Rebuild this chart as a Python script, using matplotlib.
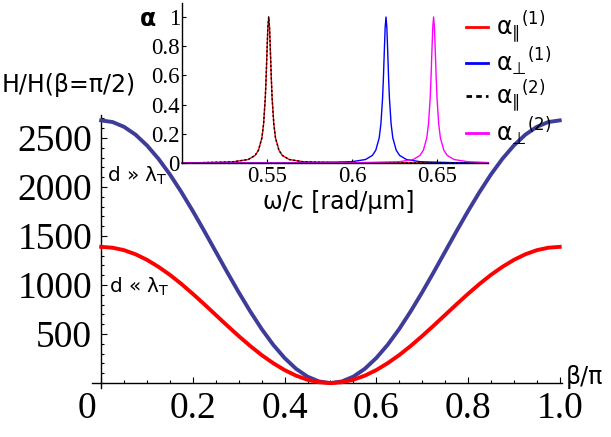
import matplotlib
matplotlib.use('Agg')
import matplotlib.pyplot as plt
import matplotlib.lines as mlines
from matplotlib.ticker import MultipleLocator, FixedLocator, FixedFormatter
import matplotlib.transforms as mtrans

plt.rcParams['font.family'] = ['Liberation Serif', 'DejaVu Serif']
plt.rcParams['mathtext.fontset'] = 'dejavusans'
plt.rcParams['mathtext.default'] = 'regular'

# ---------------- main plot data ----------------
beta = [0.000, 0.025, 0.050, 0.075, 0.100, 0.125, 0.150, 0.175, 0.200, 0.225,
        0.250, 0.275, 0.300, 0.325, 0.350, 0.375, 0.400, 0.425, 0.450, 0.475,
        0.500, 0.525, 0.550, 0.575, 0.600, 0.625, 0.650, 0.675, 0.700, 0.725,
        0.750, 0.775, 0.800, 0.825, 0.850, 0.875, 0.900, 0.925, 0.950, 0.975, 1.000]
H_far = [2680, 2663, 2614, 2534, 2424, 2288, 2128, 1948, 1754, 1550,
         1340, 1130, 926, 732, 552, 392, 256, 146, 66, 17,
         0, 17, 66, 146, 256, 392, 552, 732, 926, 1130,
         1340, 1550, 1754, 1948, 2128, 2288, 2424, 2534, 2614, 2663, 2680]
H_near = [1390, 1381, 1356, 1314, 1257, 1186, 1104, 1011, 910, 804,
          695, 586, 480, 379, 286, 204, 133, 76, 34, 9,
          0, 9, 34, 76, 133, 204, 286, 379, 480, 586,
          695, 804, 910, 1011, 1104, 1186, 1257, 1314, 1356, 1381, 1390]
x_ticks = [0.0, 0.2, 0.4, 0.6, 0.8, 1.0]
x_ticklabels = ['0', '0.2', '0.4', '0.6', '0.8', '1.0']
y_ticks = [500, 1000, 1500, 2000, 2500]
y_ticklabels = ['500', '1000', '1500', '2000', '2500']

# ---------------- inset data ----------------
omega_par = [0.500, 0.510, 0.530, 0.539, 0.543, 0.545, 0.547, 0.548, 0.549, 0.5495,
             0.550, 0.5505, 0.551, 0.5515, 0.552, 0.5525, 0.553, 0.554, 0.555, 0.557,
             0.559, 0.563, 0.571, 0.590, 0.680]
alpha_par1 = [0.001, 0.002, 0.008, 0.024, 0.052, 0.088, 0.172, 0.268, 0.447, 0.590,
              0.764, 0.928, 1.000, 0.928, 0.764, 0.590, 0.447, 0.268, 0.172, 0.088,
              0.052, 0.024, 0.009, 0.002, 0.000]
alpha_par2 = [0.001, 0.002, 0.008, 0.024, 0.052, 0.088, 0.172, 0.268, 0.447, 0.590,
              0.764, 0.928, 1.000, 0.928, 0.764, 0.590, 0.447, 0.268, 0.172, 0.088,
              0.052, 0.024, 0.009, 0.002, 0.000]
omega_perp1 = [0.500, 0.570, 0.600, 0.608, 0.612, 0.614, 0.616, 0.617, 0.618, 0.6185,
               0.619, 0.6195, 0.620, 0.6205, 0.621, 0.6215, 0.622, 0.623, 0.624, 0.626,
               0.628, 0.632, 0.640, 0.660, 0.680]
alpha_perp1 = [0.000, 0.001, 0.009, 0.024, 0.052, 0.088, 0.172, 0.268, 0.447, 0.590,
               0.764, 0.928, 1.000, 0.928, 0.764, 0.590, 0.447, 0.268, 0.172, 0.088,
               0.052, 0.024, 0.009, 0.002, 0.001]
omega_perp2 = [0.500, 0.600, 0.628, 0.636, 0.640, 0.642, 0.644, 0.645, 0.646, 0.6465,
               0.647, 0.6475, 0.648, 0.6485, 0.649, 0.6495, 0.650, 0.651, 0.652, 0.654,
               0.656, 0.660, 0.668, 0.680]
alpha_perp2 = [0.000, 0.001, 0.009, 0.024, 0.052, 0.088, 0.172, 0.268, 0.447, 0.590,
               0.764, 0.928, 1.000, 0.928, 0.764, 0.590, 0.447, 0.268, 0.172, 0.088,
               0.052, 0.024, 0.009, 0.003]
in_x_ticks = [0.55, 0.60, 0.65]
in_x_ticklabels = ['0.55', '0.6', '0.65']
in_y_ticks = [0.0, 0.2, 0.4, 0.6, 0.8, 1.0]
in_y_ticklabels = ['0', '0.2', '0.4', '0.6', '0.8', '1']
legend_labels = ['$\\alpha_{∥}{}^{(1)}$', '$\\alpha_{⊥}{}^{(1)}$',
                 '$\\alpha_{∥}{}^{(2)}$', '$\\alpha_{⊥}{}^{(2)}$']

W, H = 611, 437
fig = plt.figure(figsize=(W / 100, H / 100), dpi=100)


def fx(px):
    return px / W


def fy(py):
    return 1 - py / H


SANS = ['DejaVu Sans']

# ---------------- main axes ----------------
ax = fig.add_axes([fx(92), fy(388), fx(562) - fx(92), fy(115) - fy(388)])
ax.set_xlim(-0.02, 1.005)
ax.set_ylim(-50, 2735)
for s in ['top', 'right']:
    ax.spines[s].set_visible(False)
ax.spines['left'].set_position(('data', 0))
ax.spines['bottom'].set_position(('data', 0))
for s in ['left', 'bottom']:
    ax.spines[s].set_linewidth(1.0)

ax.plot(beta, H_far, color=(0.24, 0.24, 0.6), lw=2.8, clip_on=False, zorder=3)
ax.plot(beta, H_near, color='#ff0000', lw=2.8, clip_on=False, zorder=4)

ax.xaxis.set_major_locator(FixedLocator(x_ticks))
ax.xaxis.set_major_formatter(FixedFormatter(x_ticklabels))
ax.xaxis.set_minor_locator(MultipleLocator(0.05))
ax.yaxis.set_major_locator(FixedLocator(y_ticks))
ax.yaxis.set_major_formatter(FixedFormatter(y_ticklabels))
ax.yaxis.set_minor_locator(MultipleLocator(100))
ax.tick_params(axis='both', which='both', direction='in', width=0.8, color='black')
ax.tick_params(axis='both', which='major', length=4.5, labelsize=27)
ax.tick_params(axis='both', which='minor', length=2.5)
ax.tick_params(axis='x', which='major', pad=6)
ax.tick_params(axis='y', which='major', pad=6.5)
for lbl in ax.get_xticklabels():
    if lbl.get_text() == '0':
        lbl.set_transform(lbl.get_transform() +
                          mtrans.ScaledTranslation(-0.14, 0, fig.dpi_scale_trans))

ax.text(0.013, 2051, r'd » $\lambda_{T}$', family=SANS, fontsize=14.5, va='baseline')
ax.text(0.017, 920, r'd « $\lambda_{T}$', family=SANS, fontsize=14.5, va='baseline')

fig.text(fx(2), fy(92), 'H/H(β=π/2)', family=SANS, fontsize=17, va='baseline')
fig.text(fx(566), fy(384), 'β/π', family=SANS, fontsize=17, va='baseline')

# ---------------- inset ----------------
axi = fig.add_axes([fx(182), fy(163), fx(488) - fx(182), fy(3) - fy(163)])
axi.set_xlim(0.5, 0.68)
axi.set_ylim(0, 1.096)
axi.set_zorder(5)
axi.patch.set_facecolor('white')
for s in ['top', 'right']:
    axi.spines[s].set_visible(False)
for s in ['left', 'bottom']:
    axi.spines[s].set_linewidth(1.0)

axi.plot(omega_par, alpha_par1, color='#ff0000', lw=1.0, clip_on=False)
axi.plot(omega_perp1, alpha_perp1, color='#0000ff', lw=1.0, clip_on=False)
axi.plot(omega_par, alpha_par2, color='black', lw=1.0, dashes=(1.5, 1.5), clip_on=False)
axi.plot(omega_perp2, alpha_perp2, color='#ff00ff', lw=1.0, clip_on=False)

axi.xaxis.set_major_locator(FixedLocator(in_x_ticks))
axi.xaxis.set_major_formatter(FixedFormatter(in_x_ticklabels))
axi.yaxis.set_major_locator(FixedLocator(in_y_ticks))
axi.yaxis.set_major_formatter(FixedFormatter(in_y_ticklabels))
axi.tick_params(axis='both', which='major', direction='in', length=3, width=0.8,
                labelsize=16.5)
axi.tick_params(axis='x', pad=2.5)
axi.tick_params(axis='y', pad=1.5)

fig.text(fx(148), fy(19), 'α', family=SANS, fontsize=17, fontweight='bold',
         ha='center', va='center')
fig.text(fx(339), fy(209), 'ω/c [rad/μm]', family=SANS, fontsize=17,
         ha='center', va='baseline')

h1 = mlines.Line2D([], [], color='#ff0000', lw=2)
h2 = mlines.Line2D([], [], color='#0000ff', lw=2)
h3 = mlines.Line2D([], [], color='black', lw=2, dashes=(2, 1.5))
h4 = mlines.Line2D([], [], color='#ff00ff', lw=2)
leg = fig.legend([h1, h2, h3, h4], legend_labels, loc='upper left',
                 bbox_to_anchor=(fx(466), fy(9)), frameon=False,
                 borderpad=0, borderaxespad=0, handlelength=0.95,
                 handletextpad=0.3, labelspacing=0.0,
                 prop={'family': SANS, 'size': 17})

fig.savefig('out.png', dpi=100)
